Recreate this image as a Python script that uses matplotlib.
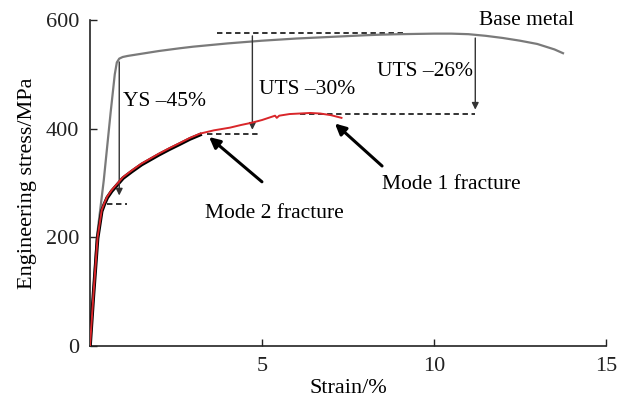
import matplotlib
matplotlib.use("Agg")
import matplotlib.pyplot as plt
import numpy as np

plt.rcParams['font.family'] = ['Liberation Serif', 'DejaVu Serif']

# Base metal curve
base_strain = [0.0, 0.2, 0.4, 0.6, 0.72, 0.78, 0.85, 0.95, 1.1, 1.5, 2.0, 2.6, 3.0, 4.0, 5.0, 6.0,
               7.0, 8.0, 8.4, 9.0, 10.0, 10.5, 11.0, 11.5, 12.0, 12.5, 13.0, 13.5, 13.75]
base_stress = [0, 200, 305, 430, 500, 522, 529, 532, 534, 538, 543, 548, 551, 557, 562, 566,
               569, 572, 573, 574, 575, 575, 574, 571, 567, 562, 556, 546, 539]

# Mode 1 fracture (red)
m1_strain = [0.0, 0.1, 0.22, 0.34, 0.41, 0.5, 0.63, 0.96, 1.21, 1.5, 2.0, 2.3, 2.62, 2.9, 3.2, 3.6, 4.07,
             4.4, 4.7, 5.0, 5.38, 5.43, 5.5, 5.8, 6.1, 6.4, 6.69, 7.0, 7.31]
m1_stress = [0, 95, 200, 250, 262, 275, 287, 311, 323, 336, 354, 364, 374, 383, 391, 397, 402,
             407, 411, 416, 424, 420, 424, 427, 428, 429, 428, 425, 420]

# Mode 2 fracture (black)
m2_strain = [0.0, 0.1, 0.22, 0.34, 0.41, 0.5, 0.63, 0.96, 1.21, 1.5, 2.0, 2.3, 2.62, 2.9, 3.2]
m2_stress = [0, 94, 198, 248, 260, 273, 285, 309, 321, 334, 352, 362, 372, 381, 389]

xticks = [5, 10, 15]
yticks = [0, 200, 400, 600]

fig = plt.figure(figsize=(6.19, 4.01), dpi=100)
ax = fig.add_axes([0.1454, 0.137, 0.979 - 0.1454, 0.950 - 0.137])

ax.plot(base_strain, base_stress, color='#7a7a7a', lw=1.6, zorder=3, solid_joinstyle='round')
ax.plot(m2_strain, m2_stress, color='black', lw=2.6, zorder=3, solid_joinstyle='round')
ax.plot(m1_strain, m1_stress, color='#d9262a', lw=1.4, zorder=4, solid_joinstyle='round')

dash = dict(color='#222222', lw=1.3, ls=(0, (3, 2)))
# dashed reference lines
ax.plot([3.7, 9.15], [576, 576], **dash)
ax.plot([3.4, 4.95], [391, 391], **dash)
ax.plot([0.5, 1.07], [262, 262], **dash)
ax.plot([6.1, 11.2], [428, 428], **dash)

arr = dict(arrowstyle='-|>', color='#333333', lw=1.0, mutation_scale=10)
ax.annotate('', xy=(0.85, 272), xytext=(0.85, 528), arrowprops=arr)
ax.annotate('', xy=(4.72, 393), xytext=(4.72, 576), arrowprops=arr)
ax.annotate('', xy=(11.2, 430), xytext=(11.2, 572), arrowprops=arr)

big = dict(arrowstyle='-|>', color='black', lw=2.2, mutation_scale=16)
ax.annotate('', xy=(3.4, 388), xytext=(5.06, 299), arrowprops=big)
ax.annotate('', xy=(7.06, 413), xytext=(8.55, 328), arrowprops=big)

fs = 15.5
ax.text(0.96, 450, 'YS \u201345%', fontsize=fs, ha='left', va='center')
ax.text(4.9, 473, 'UTS \u201330%', fontsize=fs, ha='left', va='center')
ax.text(8.35, 505, 'UTS \u201326%', fontsize=fs, ha='left', va='center')
ax.text(11.3, 600, 'Base metal', fontsize=fs, ha='left', va='center')
ax.text(3.35, 244, 'Mode 2 fracture', fontsize=fs, ha='left', va='center')
ax.text(8.5, 297, 'Mode 1 fracture', fontsize=fs, ha='left', va='center')

ax.set_xlim(0, 15)
ax.set_ylim(0, 600)
ax.set_xticks(xticks)
ax.set_yticks(yticks)
ax.tick_params(direction='in', labelsize=16, length=5, width=1, colors='#222222', pad=8)
ax.spines['top'].set_visible(False)
ax.spines['right'].set_visible(False)
for s in ['left', 'bottom']:
    ax.spines[s].set_color('#222222')
    ax.spines[s].set_linewidth(1.2)
ax.set_xlabel('Strain/%', fontsize=16, labelpad=2)
ax.set_ylabel('Engineering stress/MPa', fontsize=16, labelpad=6)

fig.savefig('out.png', dpi=100)
